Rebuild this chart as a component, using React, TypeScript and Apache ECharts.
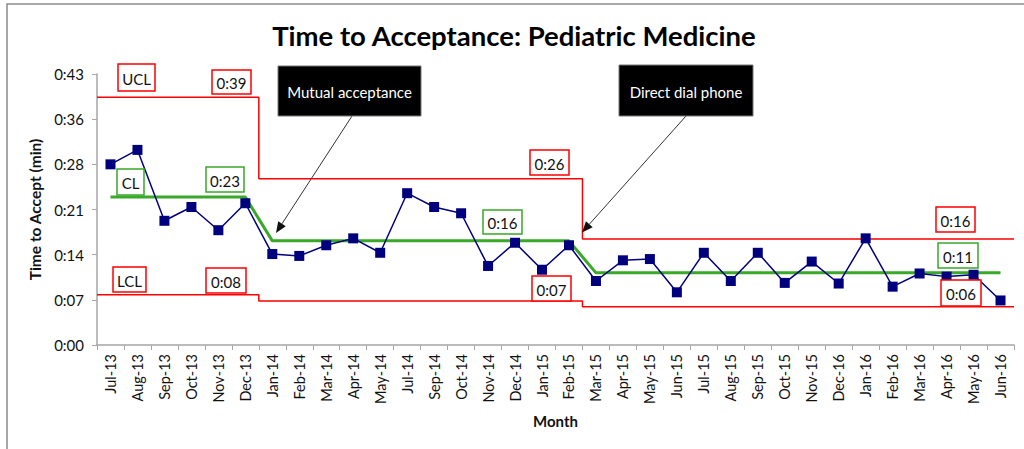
import React, { useEffect, useRef } from 'react';
import * as echarts from 'echarts';

const months = ['Jul-13','Aug-13','Sep-13','Oct-13','Nov-13','Dec-13','Jan-14','Feb-14','Mar-14','Apr-14','May-14','Jul-14','Sep-14','Oct-14','Nov-14','Dec-14','Jan-15','Feb-15','Mar-15','Apr-15','May-15','Jun-15','Jul-15','Aug-15','Sep-15','Oct-15','Nov-15','Dec-16','Jan-16','Feb-16','Mar-16','Apr-16','May-16','Jun-16'];
const minutesToAccept = [28.8,31.1,19.8,22.0,18.3,22.6,14.5,14.2,15.9,17.0,14.7,24.2,22.0,21.0,12.6,16.3,12.0,15.9,10.2,13.5,13.7,8.4,14.7,10.2,14.7,9.9,13.3,9.8,17.0,9.3,11.4,10.9,11.2,7.1];
const phaseStart = [0, 6, 18];
const phaseEnd = [6, 18, 34];
const uclValues = [39.5, 26.5, 16.9];
const clValues = [23.6, 16.6, 11.5];
const lclValues = [8.0, 7.0, 6.1];
const yMax = 43.2;
const yInterval = 7.2;

const RED = '#ff0000';
const GREEN = '#3aa829';
const NAVY = '#00007f';
const FONT = 'Lato, "Open Sans", sans-serif';

const fmt = (v: number) => {
  const m = Math.floor(v + 1e-6);
  return `${Math.floor(m / 60)}:${String(m % 60).padStart(2, '0')}`;
};

const stepData = (vals: number[]) => {
  const out: number[][] = [];
  vals.forEach((v, i) => {
    out.push([phaseStart[i], v]);
    out.push([phaseEnd[i], v]);
  });
  return out;
};

const clPerMonth = months.map((_, idx) => {
  let p = 0;
  phaseStart.forEach((s, i) => { if (idx >= s) p = i; });
  return clValues[p];
});

const box = (x: number, y: number, w: number, h: number, text: string, color: string) => ({
  type: 'group',
  z: 50,
  children: [
    { type: 'rect', shape: { x, y, width: w, height: h }, style: { fill: '#ffffff', stroke: color, lineWidth: 1.5 }, z: 50 },
    { type: 'text', x: x + w / 2, y: y + h / 2 + 1, style: { text, fill: '#111', font: `15px ${FONT}`, align: 'center', verticalAlign: 'middle' }, z: 51 },
  ],
});

const blackBox = (x: number, y: number, w: number, h: number, text: string) => ({
  type: 'group',
  z: 50,
  children: [
    { type: 'rect', shape: { x, y, width: w, height: h }, style: { fill: '#000000', stroke: '#777', lineWidth: 1 }, z: 50 },
    { type: 'text', x: x + w / 2, y: y + h / 2 + 1, style: { text, fill: '#ffffff', font: `15px ${FONT}`, align: 'center', verticalAlign: 'middle' }, z: 51 },
  ],
});

const arrow = (x1: number, y1: number, x2: number, y2: number) => {
  const dx = x2 - x1, dy = y2 - y1;
  const len = Math.sqrt(dx * dx + dy * dy);
  const ux = dx / len, uy = dy / len;
  const hl = 11, hw = 4.5;
  const bx = x2 - ux * hl, by = y2 - uy * hl;
  return [
    { type: 'line', shape: { x1, y1, x2: bx, y2: by }, style: { stroke: '#333', lineWidth: 1 }, z: 49 },
    { type: 'polygon', shape: { points: [[x2, y2], [bx - uy * hw, by + ux * hw], [bx + uy * hw, by - ux * hw]] }, style: { fill: '#111' }, z: 49 },
  ];
};

export default function App() {
  const ref = useRef<HTMLDivElement>(null);
  useEffect(() => {
    if (!ref.current) return;
    const chart = echarts.init(ref.current, null, { renderer: 'svg' });
    const graphic: any[] = [
      { type: 'rect', shape: { x: 7, y: 4, width: 1040, height: 470 }, style: { fill: 'none', stroke: '#8c8c8c', lineWidth: 1.5 }, z: 0, silent: true },
      { type: 'text', x: 514, y: 35, style: { text: 'Time to Acceptance: Pediatric Medicine', font: `bold 27.5px ${FONT}`, fill: '#000', align: 'center', verticalAlign: 'middle' }, z: 50 },
      box(118, 64, 37, 27, 'UCL', RED),
      box(212, 70, 39, 24, fmt(uclValues[0]), RED),
      box(117, 169, 27, 26, 'CL', GREEN),
      box(206, 167, 38, 25, fmt(clValues[0]), GREEN),
      box(113, 267, 33, 25, 'LCL', RED),
      box(206, 268, 40, 25, fmt(lclValues[0]), RED),
      box(530, 150, 39, 25, fmt(uclValues[1]), RED),
      box(483, 210, 39, 24, fmt(clValues[1]), GREEN),
      box(532, 276, 39, 25, fmt(lclValues[1]), RED),
      box(936, 207, 39, 25, fmt(uclValues[2]), RED),
      box(938, 243, 40, 25, fmt(clValues[2]), GREEN),
      box(941, 280, 40, 26, fmt(lclValues[2]), RED),
      blackBox(278, 66, 143, 50, 'Mutual acceptance'),
      blackBox(619, 65, 134, 51, 'Direct dial phone'),
      ...arrow(352, 116, 276, 233),
      ...arrow(686, 116, 582, 232.5),
    ];
    chart.setOption({
      animation: false,
      textStyle: { fontFamily: FONT },
      grid: { left: 97, right: 10, top: 74, bottom: 104 },
      xAxis: [
        {
          type: 'category',
          data: months,
          boundaryGap: true,
          name: 'Month',
          nameLocation: 'middle',
          nameGap: 68,
          nameTextStyle: { fontWeight: 'bold', fontSize: 15, color: '#111', fontFamily: FONT },
          axisLine: { lineStyle: { color: '#a6a6a6', width: 1.5 } },
          axisTick: { show: true, length: 5, lineStyle: { color: '#a6a6a6' } },
          axisLabel: { interval: 0, rotate: 90, fontSize: 14.5, color: '#111', margin: 9, fontFamily: FONT },
          splitLine: { show: false },
        },
        { type: 'value', min: 0, max: months.length, show: false },
      ],
      yAxis: {
        type: 'value',
        min: 0,
        max: yMax,
        interval: yInterval,
        name: 'Time to Accept (min)',
        nameLocation: 'middle',
        nameGap: 50,
        nameTextStyle: { fontWeight: 'bold', fontSize: 15.5, color: '#111', fontFamily: FONT },
        axisLine: { show: true, lineStyle: { color: '#a6a6a6', width: 1.5 } },
        axisTick: { show: true, length: 5, lineStyle: { color: '#a6a6a6' } },
        axisLabel: { formatter: (v: number) => fmt(v), fontSize: 15, color: '#111', margin: 13, fontFamily: FONT },
        splitLine: { show: false },
      },
      series: [
        {
          name: 'UCL', type: 'line', xAxisIndex: 1, data: stepData(uclValues), symbol: 'none',
          lineStyle: { color: RED, width: 1.5 }, z: 2, silent: true,
        },
        {
          name: 'LCL', type: 'line', xAxisIndex: 1, data: stepData(lclValues), symbol: 'none',
          lineStyle: { color: RED, width: 1.5 }, z: 2, silent: true,
        },
        {
          name: 'CL', type: 'line', xAxisIndex: 0, data: clPerMonth, symbol: 'none',
          lineStyle: { color: GREEN, width: 3 }, z: 3, silent: true,
        },
        {
          name: 'Time to Accept', type: 'line', xAxisIndex: 0, data: minutesToAccept, symbol: 'rect', symbolSize: 10,
          itemStyle: { color: NAVY }, lineStyle: { color: NAVY, width: 1.5 }, z: 4,
        },
      ],
      graphic,
    });
    return () => chart.dispose();
  }, []);
  return <div ref={ref} style={{ position: 'fixed', left: 0, top: 0, width: 1024, height: 449, background: '#fff' }} />;
}
